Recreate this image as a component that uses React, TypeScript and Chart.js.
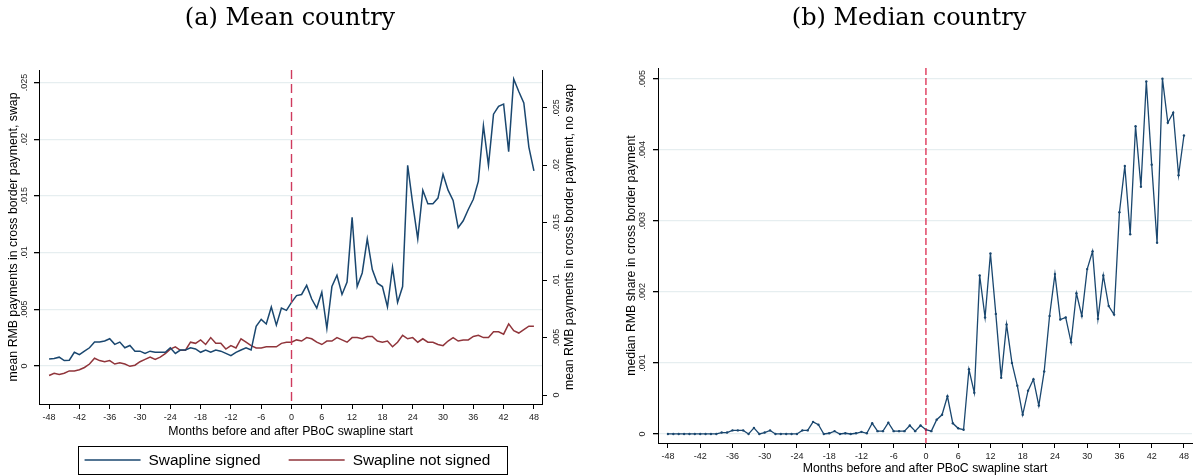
import React, { useEffect, useRef } from "react";
import { Chart, registerables } from "chart.js";
Chart.register(...registerables);

// ---------------- DATA ----------------
const months = [
  -48, -47, -46, -45, -44, -43, -42, -41, -40, -39, -38, -37, -36, -35, -34, -33,
  -32, -31, -30, -29, -28, -27, -26, -25, -24, -23, -22, -21, -20, -19, -18, -17,
  -16, -15, -14, -13, -12, -11, -10, -9, -8, -7, -6, -5, -4, -3, -2, -1,
  0, 1, 2, 3, 4, 5, 6, 7, 8, 9, 10, 11, 12, 13, 14, 15,
  16, 17, 18, 19, 20, 21, 22, 23, 24, 25, 26, 27, 28, 29, 30, 31,
  32, 33, 34, 35, 36, 37, 38, 39, 40, 41, 42, 43, 44, 45, 46, 47, 48,
];

// (a) mean country, swapline signed (left axis)
const meanSwap = [
  0.0006, 0.00065, 0.00077, 0.00047, 0.0005, 0.0012, 0.001, 0.0013, 0.0016, 0.0021, 0.0021, 0.0022, 0.0024, 0.0019, 0.0021, 0.0016,
  0.0018, 0.0013, 0.0013, 0.0011, 0.0013, 0.0012, 0.0012, 0.0012, 0.0016, 0.0011, 0.0014, 0.0014, 0.0016, 0.0015, 0.0012, 0.0014,
  0.0012, 0.0014, 0.0013, 0.0011, 0.0009, 0.0012, 0.0014, 0.0016, 0.0014, 0.0035, 0.0041, 0.0037, 0.0052, 0.0036, 0.0051, 0.0049,
  0.0056, 0.0062, 0.0063, 0.0071, 0.0059, 0.0051, 0.0065, 0.0033, 0.007, 0.008, 0.0063, 0.0074, 0.0131, 0.007, 0.0082, 0.0112,
  0.0085, 0.0073, 0.007, 0.0052, 0.0087, 0.0056, 0.007, 0.0177, 0.0143, 0.0112, 0.0155, 0.0143, 0.0143, 0.0148, 0.0169, 0.0155,
  0.0146, 0.0122, 0.0128, 0.0138, 0.0147, 0.0163, 0.0212, 0.0177, 0.0222, 0.0229, 0.0231, 0.0189, 0.0253, 0.0242, 0.0232, 0.0193, 0.0172,
];

// (a) mean country, swapline not signed (right axis)
const meanNoSwap = [
  0.0017, 0.0019, 0.0018, 0.0019, 0.0021, 0.0021, 0.0022, 0.0024, 0.0027, 0.0032, 0.003, 0.0029, 0.003, 0.0027, 0.0028, 0.0027,
  0.0025, 0.0026, 0.0029, 0.0031, 0.0033, 0.0031, 0.0033, 0.0036, 0.004, 0.0042, 0.0039, 0.0039, 0.0046, 0.0045, 0.0048, 0.0044,
  0.005, 0.0045, 0.0045, 0.004, 0.0043, 0.0041, 0.0049, 0.0046, 0.0043, 0.0041, 0.0041, 0.0042, 0.0042, 0.0042, 0.0045, 0.0046,
  0.0046, 0.0048, 0.0047, 0.005, 0.0049, 0.0046, 0.0044, 0.0047, 0.0047, 0.005, 0.0048, 0.0046, 0.005, 0.005, 0.0049, 0.0051,
  0.0051, 0.0047, 0.0046, 0.0047, 0.0042, 0.0046, 0.0052, 0.0049, 0.005, 0.0046, 0.0049, 0.0046, 0.0046, 0.0044, 0.0043, 0.0047,
  0.005, 0.0047, 0.0048, 0.0048, 0.0051, 0.0052, 0.005, 0.005, 0.0055, 0.0055, 0.0053, 0.0062, 0.0056, 0.0054, 0.0057, 0.006, 0.006,
];

// (b) median country
const medianSwap = [
  0, 0, 0, 0, 0, 0, 0, 0, 0, 0, 0.00002, 0.00002, 0.00005, 0.00005, 0.00005, 0,
  0.000085, 0, 0.00002, 0.00005, 0, 0, 0, 0, 0, 0.00005, 0.00005, 0.00017, 0.00013, 0, 0.00001, 0.00004,
  0, 0.00001, 0, 0.00001, 0.00003, 0.00001, 0.00015, 0.00004, 0.00004, 0.00016, 0.00004, 0.00004, 0.00004, 0.00012, 0.00004, 0.00012,
  0.00006, 0.00004, 0.0002, 0.00027, 0.00053, 0.00015, 0.00008, 0.00006, 0.00091, 0.00058, 0.00223, 0.00164, 0.00254, 0.00169, 0.00079, 0.00154,
  0.001, 0.00068, 0.00027, 0.00061, 0.00077, 0.0004, 0.00088, 0.00166, 0.00225, 0.00161, 0.00164, 0.00129, 0.00198, 0.00166, 0.00232, 0.00257,
  0.00162, 0.00223, 0.0018, 0.00168, 0.00312, 0.00377, 0.00281, 0.00433, 0.00348, 0.00496, 0.00379, 0.00269, 0.005, 0.00438, 0.00452, 0.00364, 0.0042,
];

const xTickValues = [-48, -42, -36, -30, -24, -18, -12, -6, 0, 6, 12, 18, 24, 30, 36, 42, 48];
const meanLeftTicks = [0, 0.005, 0.01, 0.015, 0.02, 0.025];
const meanRightTicks = [0, 0.005, 0.01, 0.015, 0.02, 0.025];
const medianTicks = [0, 0.001, 0.002, 0.003, 0.004, 0.005];
const eventMonth = 0;

const seriesLabels = ["Swapline signed", "Swapline not signed"];
const titleA = "(a) Mean country";
const titleB = "(b) Median country";
const xTitle = "Months before and after PBoC swapline start";
const yTitleA = "mean RMB payments in cross border payment, swap";
const yTitleA2 = "mean RMB payments in cross border payment, no swap";
const yTitleB = "median RMB share in cross border payment";

// ---------------- STYLE ----------------
const BLUE = "#1a476f";
const RED = "#90353b";
const GRID = "#e6eef0";
const SANS = "'Liberation Sans', Arial, sans-serif";
const SERIF = "'DejaVu Serif', serif";
const TICK_SIZE = 9;
const AXIS_TITLE_SIZE = 12.3;

Chart.defaults.font.family = SANS;
Chart.defaults.color = "#000";

const fmt = (v: number) => (v === 0 ? "0" : String(v).replace(/^0/, ""));

const decorPlugin = {
  id: "decor",
  afterDatasetsDraw(chart: any, _args: any, opts: any) {
    if (!opts || !opts.vline) return;
    const { ctx, chartArea } = chart;
    const xs = chart.scales.x;
    const px = xs.getPixelForValue(opts.vline.value);
    ctx.save();
    ctx.strokeStyle = opts.vline.color;
    ctx.lineWidth = opts.vline.width;
    ctx.setLineDash(opts.vline.dash);
    ctx.beginPath();
    ctx.moveTo(px, chartArea.top);
    ctx.lineTo(px, chartArea.bottom);
    ctx.stroke();
    ctx.restore();
  },
  afterDraw(chart: any, _args: any, opts: any) {
    const { ctx, chartArea } = chart;
    ctx.save();
    // rotated y tick labels
    (opts.yLabels || []).forEach((spec: any) => {
      const scale = chart.scales[spec.id];
      ctx.font = `${TICK_SIZE}px ${SANS}`;
      ctx.fillStyle = "#222";
      ctx.textAlign = "center";
      ctx.textBaseline = "middle";
      scale.ticks.forEach((t: any) => {
        const y = scale.getPixelForValue(t.value);
        const x = spec.side === "left" ? scale.right - spec.offset : scale.left + spec.offset;
        ctx.save();
        ctx.translate(x, y);
        ctx.rotate(-Math.PI / 2);
        ctx.fillText(fmt(t.value), 0, 0);
        ctx.restore();
      });
    });
    // extra rotated axis title (reads bottom-to-top)
    if (opts.rightTitle) {
      const scale = chart.scales[opts.rightTitle.id];
      ctx.font = `${AXIS_TITLE_SIZE}px ${SANS}`;
      ctx.fillStyle = "#000";
      ctx.textAlign = "center";
      ctx.textBaseline = "middle";
      ctx.save();
      ctx.translate(scale.left + opts.rightTitle.offset, (chartArea.top + chartArea.bottom) / 2);
      ctx.rotate(-Math.PI / 2);
      ctx.fillText(opts.rightTitle.text, 0, 0);
      ctx.restore();
    }
    // boxed legend
    if (opts.legend) {
      const L = opts.legend;
      ctx.font = `${L.fontSize}px ${SANS}`;
      const items = chart.data.datasets.map((d: any) => ({
        text: d.label,
        color: d.borderColor,
        w: ctx.measureText(d.label).width,
      }));
      let total = 0;
      items.forEach((it: any, i: number) => {
        total += L.lineLen + L.gap + it.w + (i < items.length - 1 ? L.itemGap : 0);
      });
      const start = L.centerX - total / 2;
      const cy = L.centerY;
      ctx.strokeStyle = "#000";
      ctx.lineWidth = 1;
      ctx.strokeRect(
        Math.round(start - L.padLeft) + 0.5,
        Math.round(cy - L.boxH / 2) + 0.5,
        Math.round(total + L.padLeft + L.padRight),
        L.boxH
      );
      let x = start;
      items.forEach((it: any) => {
        ctx.strokeStyle = it.color;
        ctx.lineWidth = 1.5;
        ctx.beginPath();
        ctx.moveTo(x, cy);
        ctx.lineTo(x + L.lineLen, cy);
        ctx.stroke();
        x += L.lineLen + L.gap;
        ctx.fillStyle = "#000";
        ctx.textAlign = "left";
        ctx.textBaseline = "middle";
        ctx.fillText(it.text, x, cy + 1);
        x += it.w + L.itemGap;
      });
    }
    ctx.restore();
  },
};

const setTicks = (vals: number[]) => (scale: any) => {
  scale.ticks = vals.map((v) => ({ value: v }));
};

function xScale(min: number, max: number, height: number, titlePadBottom: number) {
  return {
    type: "linear" as const,
    position: "bottom" as const,
    min,
    max,
    afterBuildTicks: setTicks(xTickValues),
    afterFit: (s: any) => {
      s.height = height;
    },
    ticks: {
      autoSkip: false,
      maxRotation: 0,
      minRotation: 0,
      padding: 3,
      color: "#222",
      font: { size: TICK_SIZE },
      callback: (v: any) => String(v),
    },
    grid: { drawOnChartArea: false, drawTicks: true, tickLength: 5, tickColor: "#000" },
    border: { display: true, color: "#000", width: 1 },
    title: {
      display: true,
      text: xTitle,
      color: "#000",
      font: { size: AXIS_TITLE_SIZE },
      padding: { top: 0, bottom: titlePadBottom },
    },
  };
}

export default function App() {
  const refA = useRef<HTMLCanvasElement | null>(null);
  const refB = useRef<HTMLCanvasElement | null>(null);

  useEffect(() => {
    const chartA = new Chart(refA.current as HTMLCanvasElement, {
      type: "line",
      data: {
        datasets: [
          {
            label: seriesLabels[0],
            data: months.map((m, i) => ({ x: m, y: meanSwap[i] })),
            yAxisID: "y",
            borderColor: BLUE,
            backgroundColor: BLUE,
            borderWidth: 1.5,
            pointRadius: 0,
            tension: 0,
          },
          {
            label: seriesLabels[1],
            data: months.map((m, i) => ({ x: m, y: meanNoSwap[i] })),
            yAxisID: "y1",
            borderColor: RED,
            backgroundColor: RED,
            borderWidth: 1.5,
            pointRadius: 0,
            tension: 0,
          },
        ],
      },
      options: {
        responsive: false,
        animation: false,
        devicePixelRatio: 1,
        layout: { padding: { left: 0, right: 0, top: 0, bottom: 34 } },
        scales: {
          x: xScale(-50, 49.6, 38, 2.6),
          y: {
            type: "linear",
            position: "left",
            min: -0.00336,
            max: 0.0261,
            afterBuildTicks: setTicks(meanLeftTicks),
            afterFit: (s: any) => {
              s.width = 39;
            },
            ticks: { display: false },
            grid: { color: GRID, lineWidth: 1.3, drawTicks: true, tickLength: 5, tickColor: "#000" },
            border: { display: true, color: "#000", width: 1 },
            title: {
              display: true,
              text: yTitleA,
              color: "#000",
              font: { size: AXIS_TITLE_SIZE },
              padding: { top: 6, bottom: 0 },
            },
          },
          y1: {
            type: "linear",
            position: "right",
            min: -0.00078,
            max: 0.0283,
            afterBuildTicks: setTicks(meanRightTicks),
            afterFit: (s: any) => {
              s.width = 38;
            },
            ticks: { display: false },
            grid: { drawOnChartArea: false, drawTicks: true, tickLength: 5, tickColor: "#000" },
            border: { display: true, color: "#000", width: 1 },
            title: { display: false },
          },
        },
        plugins: {
          legend: { display: false },
          tooltip: { enabled: false },
          title: {
            display: true,
            text: titleA,
            color: "#000",
            font: { family: SERIF, size: 24, weight: "normal" },
            padding: { top: 4, bottom: 37.2 },
          },
          decor: {
            vline: { value: eventMonth, color: "#cf3a5e", width: 1.4, dash: [9, 5] },
            yLabels: [
              { id: "y", side: "left", offset: 14 },
              { id: "y1", side: "right", offset: 15 },
            ],
            rightTitle: { id: "y1", offset: 28, text: yTitleA2 },
            legend: {
              fontSize: 15.4,
              lineLen: 56,
              gap: 8,
              itemGap: 28,
              centerX: 287.5,
              centerY: 460,
              boxH: 28,
              padLeft: 7,
              padRight: 16,
            },
          },
        } as any,
      },
      plugins: [decorPlugin],
    });

    const chartB = new Chart(refB.current as HTMLCanvasElement, {
      type: "line",
      data: {
        datasets: [
          {
            label: "median",
            data: months.map((m, i) => ({ x: m, y: medianSwap[i] })),
            borderColor: BLUE,
            backgroundColor: BLUE,
            borderWidth: 1.3,
            pointRadius: 1.2,
            pointBorderWidth: 0,
            pointBackgroundColor: BLUE,
            tension: 0,
          },
        ],
      },
      options: {
        responsive: false,
        animation: false,
        devicePixelRatio: 1,
        layout: { padding: { left: 0, right: 0, top: 0, bottom: 0 } },
        scales: {
          x: xScale(-49.85, 49.5, 33, 0.5),
          y: {
            type: "linear",
            position: "left",
            min: -0.000127,
            max: 0.00515,
            afterBuildTicks: setTicks(medianTicks),
            afterFit: (s: any) => {
              s.width = 36;
            },
            ticks: { display: false },
            grid: { color: GRID, lineWidth: 1.3, drawTicks: true, tickLength: 5, tickColor: "#000" },
            border: { display: true, color: "#000", width: 1 },
            title: {
              display: true,
              text: yTitleB,
              color: "#000",
              font: { size: AXIS_TITLE_SIZE },
              padding: { top: 2.3, bottom: 0 },
            },
          },
        },
        plugins: {
          legend: { display: false },
          tooltip: { enabled: false },
          title: {
            display: true,
            text: titleB,
            color: "#000",
            font: { family: SERIF, size: 24, weight: "normal" },
            padding: { top: 4, bottom: 35.2 },
          },
          decor: {
            vline: { value: eventMonth, color: "#d9173f", width: 1.2, dash: [7, 3] },
            yLabels: [{ id: "y", side: "left", offset: 15 }],
          },
        } as any,
      },
      plugins: [decorPlugin],
    });

    return () => {
      chartA.destroy();
      chartB.destroy();
    };
  }, []);

  return (
    <div style={{ position: "absolute", left: 0, top: 0, width: 1196, height: 476, background: "#fff" }}>
      <div style={{ position: "absolute", left: 0, top: 0, width: 580, height: 476 }}>
        <canvas ref={refA} width={580} height={476} style={{ width: 580, height: 476, display: "block" }} />
      </div>
      <div style={{ position: "absolute", left: 622, top: 0, width: 574, height: 476 }}>
        <canvas ref={refB} width={574} height={476} style={{ width: 574, height: 476, display: "block" }} />
      </div>
    </div>
  );
}
